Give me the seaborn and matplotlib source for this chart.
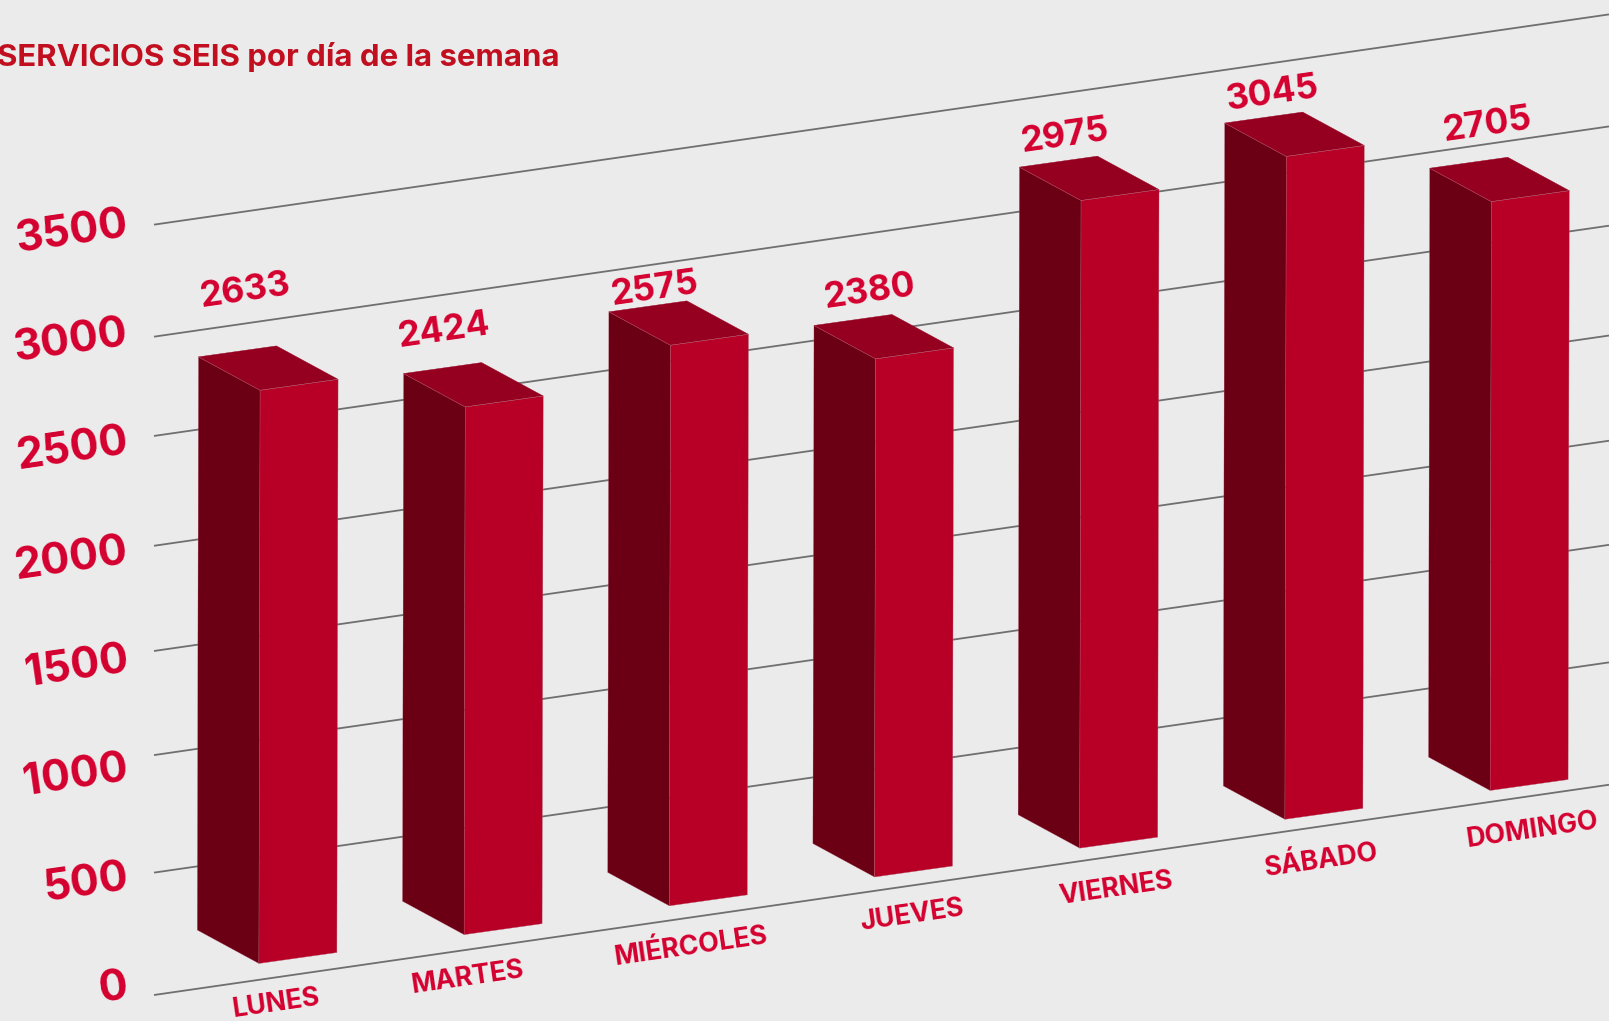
import numpy as np
import pandas as pd
import seaborn as sns
import matplotlib
matplotlib.use("Agg")
import matplotlib.pyplot as plt
from matplotlib.transforms import Affine2D

# --- data ---
days = ["LUNES", "MARTES", "MIÉRCOLES", "JUEVES", "VIERNES", "SÁBADO", "DOMINGO"]
services = [2633, 2424, 2575, 2380, 2975, 3045, 2705]
tick_values = [0, 500, 1000, 1500, 2000, 2500, 3000, 3500]
# where each gridline of the drawing really sits, on its own scale
grid_levels = [0, 556, 1090, 1563, 2041, 2540, 2991, 3500]
title = "SERVICIOS SEIS por día de la semana"

# --- label anchors (style, pixels) ---
value_label_xy = [(245, 291), (444, 331), (654, 289), (869, 292), (1065, 136), (1272, 94), (1487, 125)]
day_label_xy = [(276, 1004), (467, 978), (691, 947), (912, 916), (1116, 889), (1322, 861), (1532, 831)]

# --- colours ---
BG = "#ebebeb"
FRONT = "#b80026"
SIDE = "#6b0014"
TOP = "#960020"
TEXT = "#d4002f"
TITLE = "#c20f20"
GRID = "#6f6f6f"
SEAM = "#b0566a"

sns.set_theme(style="white")
plt.rcParams["font.family"] = ["Inter", "DejaVu Sans"]

fig = plt.figure(figsize=(16.09, 10.21), dpi=100, facecolor=BG)
ax = fig.add_axes([0, 0, 1, 1])

df = pd.DataFrame({"dia": days, "servicios": services})
sns.barplot(data=df, x="dia", y="servicios", color=FRONT, saturation=1, width=0.38,
            ax=ax, zorder=4, edgecolor=SEAM, linewidth=0.25)

ax.set_xlim(0, 1609)
ax.set_ylim(1021, 0)
ax.set_axis_off()

# oblique projection (category, value) -> picture
CAT_DX, CAT_DY = 205.2, -28.83
VAL_DX, VAL_DY = 0.00045, -0.2177
X0, Y0 = 297.9, 958.0
DEPTH_DX, DEPTH_DY = -61.6, -33.4
project = Affine2D(np.array([[CAT_DX, VAL_DX, X0], [CAT_DY, VAL_DY, Y0], [0, 0, 1]]))
bar_tf = project + ax.transData

# grid plane (picture x, level) -> picture
GRID_SLOPE = -0.1445
GRID_X = [154, 1609]
grid_plane = Affine2D(np.array([[1, 0, 0], [GRID_SLOPE, -0.2201, 995 - GRID_SLOPE * 154], [0, 0, 1]]))
for lev in grid_levels:
    ax.plot(GRID_X, [lev, lev], color=GRID, lw=1.3, transform=grid_plane + ax.transData,
            zorder=1, solid_capstyle="butt")

# seaborn's bars become the front faces; side and top faces are extruded from them
for bar in ax.patches:
    bar.set_transform(bar_tf)
    x0, w, v = bar.get_x(), bar.get_width(), bar.get_height()
    base_l, top_l, top_r = project.transform([(x0, 0), (x0, v), (x0 + w, v)])
    d = np.array([DEPTH_DX, DEPTH_DY])
    side = np.array([base_l, top_l, top_l + d, base_l + d])
    top = np.array([top_l, top_r, top_r + d, top_l + d])
    ax.fill(side[:, 0], side[:, 1], color=SIDE, zorder=3, ec=SEAM, lw=0.2)
    ax.fill(top[:, 0], top[:, 1], color=TOP, zorder=3, ec=TOP, lw=0.3)
    ax.plot(*np.array([top_l + d, top_l]).T, color=SEAM, lw=0.3, zorder=5)
    ax.plot(*np.array([top_l, top_r]).T, color=SEAM, lw=0.3, zorder=5)

ANGLE = np.degrees(np.arctan(-GRID_SLOPE))

# y-axis tick labels
for k, t in enumerate(tick_values):
    ax.text(128, 986.5 - 108.9 * k, str(t), color=TEXT, fontsize=31, fontweight="bold",
            rotation=ANGLE, rotation_mode="anchor", ha="right", va="center", zorder=6)

# bar value labels
for (x, y), s in zip(value_label_xy, services):
    ax.text(x, y, str(s), color=TEXT, fontsize=25.5, fontweight="bold",
            rotation=ANGLE, rotation_mode="anchor", ha="center", va="center", zorder=6)

# day labels
for (x, y), s in zip(day_label_xy, days):
    ax.text(x, y, s, color=TEXT, fontsize=19.2, fontweight="bold",
            rotation=ANGLE, rotation_mode="anchor", ha="center", va="center", zorder=6)

ax.text(-3, 66, title, color=TITLE, fontsize=22.4, fontweight="bold", ha="left", va="baseline", zorder=6)

fig.savefig("out.png", dpi=100, facecolor=BG)
